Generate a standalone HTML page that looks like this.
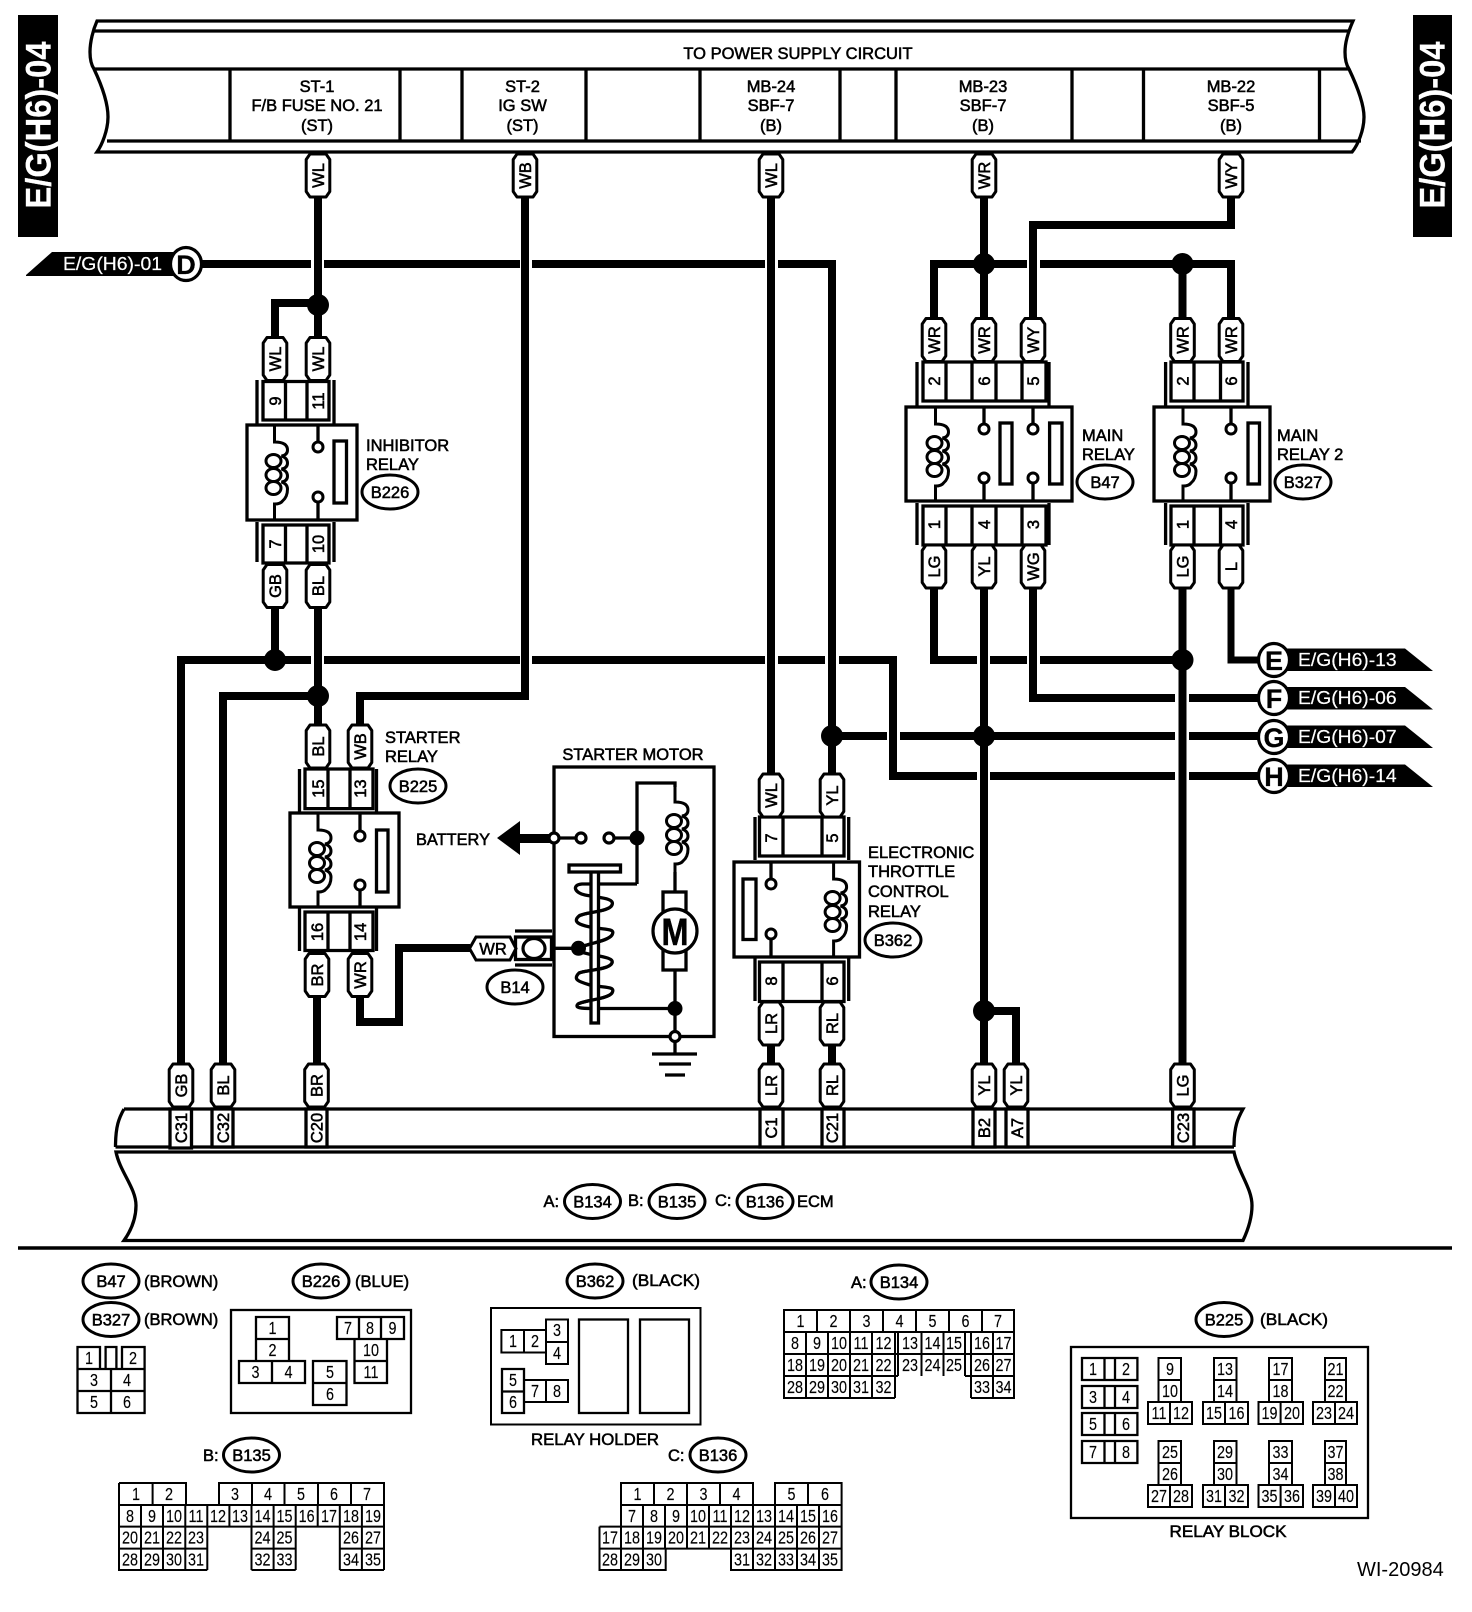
<!DOCTYPE html>
<html><head><meta charset="utf-8"><title>E/G(H6)-04</title>
<style>
html,body{margin:0;padding:0;background:#fff}
svg{display:block}
text{font-family:"Liberation Sans",sans-serif;font-size:16.5px;fill:#000;stroke:#000;stroke-width:.55}
.c{text-anchor:middle}
.k{fill:#fff;stroke:#fff;font-size:18px;stroke-width:.2}
.bar{font-size:35px;font-weight:bold;text-anchor:middle;fill:#fff;stroke:#fff;stroke-width:.3}
.n{font-size:18px;text-anchor:middle;stroke-width:.15;transform-box:fill-box;transform-origin:center;transform:scaleX(.8)}
.big{font-size:27px;font-weight:bold;text-anchor:middle;stroke-width:.3}
.w{fill:none;stroke:#000;stroke-width:8;stroke-linejoin:miter}
.l{fill:none;stroke:#000;stroke-width:3.3}
.m{fill:none;stroke:#000;stroke-width:2.3}
.g{fill:none;stroke:#000;stroke-width:2}
.b{fill:#fff;stroke:#000;stroke-width:3.3}
.o{fill:#fff;stroke:#000;stroke-width:3.2}
</style></head><body>
<svg width="1472" height="1612" viewBox="0 0 1472 1612" xmlns="http://www.w3.org/2000/svg">
<defs>
<path id="p" d="M-8-21.5H8L11.8-16V16L8 21.5H-8L-11.8 16V-16Z" fill="#fff" stroke="#000" stroke-width="3" stroke-linejoin="round"/>
<ellipse id="v" rx="28" ry="17" fill="#fff" stroke="#000" stroke-width="3"/>
<circle id="e" r="5" fill="#fff" stroke="#000" stroke-width="3"/>
<circle id="j" r="11" fill="#000"/>
<g id="q" fill="none" stroke="#000" stroke-width="3">
<path d="M0 0V17Q13 17 13 25Q13 30 7 31Q13 33 13 38Q13 43 7 44Q13 46 13 51Q13 56 7 57Q13 59 13 64Q13 72 8 76Q6 79 0 79V95"/>
<ellipse cx="-1" cy="36" rx="7.5" ry="6.5"/><ellipse cx="-1" cy="50" rx="7.5" ry="6.5"/><ellipse cx="-1" cy="63" rx="7.5" ry="6.5"/>
</g>
</defs>

<!-- side bars -->
<rect x="18" y="15" width="40" height="222"/>
<text class="bar" transform="translate(38 125)rotate(-90)" y="12.5" textLength="167" lengthAdjust="spacingAndGlyphs">E/G(H6)-04</text>
<rect x="1413" y="15" width="39" height="222"/>
<text class="bar" transform="translate(1432 125)rotate(-90)" y="12.5" textLength="167" lengthAdjust="spacingAndGlyphs">E/G(H6)-04</text>

<!-- header -->
<path class="l" d="M97 21C93 30 90 42 90 52C90 60 92 66 94 69C103 88 108 105 108 117C108 130 102 145 97 152H1352C1358 145 1364 130 1364 117C1364 105 1358 88 1349 69C1347 66 1345 60 1345 52C1345 42 1349 30 1353 21Z"/>
<path class="l" d="M93 31H1349M93 69H1349M107 141H1361M230 69V141M400 69V141M462 69V141M586 69V141M700 69V141M840 69V141M896 69V141M1072 69V141M1143.5 69V141M1319.5 69V141"/>
<text class="c" x="798" y="59">TO POWER SUPPLY CIRCUIT</text>
<text class="c" x="317" y="92">ST-1</text><text class="c" x="317" y="111">F/B FUSE NO. 21</text><text class="c" x="317" y="131">(ST)</text>
<text class="c" x="522.5" y="92">ST-2</text><text class="c" x="522.5" y="111">IG SW</text><text class="c" x="522.5" y="131">(ST)</text>
<text class="c" x="771" y="92">MB-24</text><text class="c" x="771" y="111">SBF-7</text><text class="c" x="771" y="131">(B)</text>
<text class="c" x="983" y="92">MB-23</text><text class="c" x="983" y="111">SBF-7</text><text class="c" x="983" y="131">(B)</text>
<text class="c" x="1231" y="92">MB-22</text><text class="c" x="1231" y="111">SBF-5</text><text class="c" x="1231" y="131">(B)</text>

<!-- wires -->
<path class="w" d="M202 264H311M324 264H520M532 264H765M778 264H832V774"/>
<path class="w" d="M318 197V338M318 303H275V338"/>
<path class="w" d="M525 197V696H360V725"/>
<path class="w" d="M771 197V774"/>
<path class="w" d="M984 197V319"/>
<path class="w" d="M934 319V264H1027M1040 264H1231V319"/>
<path class="w" d="M1182.5 264V319"/>
<path class="w" d="M1231 197V225H1033V319"/>
<path class="w" d="M275 608V660M318 608V725"/>
<path class="w" d="M181 1064V660H311M324 660H520M532 660H765M778 660H825M839 660H893V776H977M990 776H1175M1189 776H1258"/>
<path class="w" d="M223 1064V696H318"/>
<path class="w" d="M317 996V1064"/>
<path class="w" d="M360 996V1022H399V948H470"/>
<path class="w" d="M771 1045V1064M832 1045V1064"/>
<path class="w" d="M934 588V660H977M990 660H1027M1040 660H1182"/>
<path class="w" d="M984 588V1064"/>
<path class="w" d="M1033 588V698H1175M1189 698H1258"/>
<path class="w" d="M1182.5 588V1064"/>
<path class="w" style="stroke-width:7" d="M1231 588V660H1258"/>
<path class="w" d="M832 736H887M900 736H1175M1189 736H1258"/>
<path class="w" d="M984 1011H1016V1064"/>

<!-- junctions -->
<use href="#j" x="318" y="305"/><use href="#j" x="984" y="264"/><use href="#j" x="1182.5" y="264"/>
<use href="#j" x="275" y="660"/><use href="#j" x="318" y="696"/><use href="#j" x="1182.5" y="660"/>
<use href="#j" x="832" y="736"/><use href="#j" x="984" y="736"/><use href="#j" x="984" y="1011"/>

<!-- D tag -->
<path d="M26 275L52 252H175V276H26Z"/>
<text class="k" x="63" y="270" textLength="99" lengthAdjust="spacingAndGlyphs">E/G(H6)-01</text>
<ellipse class="o" cx="186" cy="264" rx="15.5" ry="16.5"/><text class="big" x="186" y="274">D</text>

<!-- E F G H tags -->
<path d="M1285 648.5H1405L1433 671H1285Z"/><path d="M1285 687H1405L1433 709.5H1285Z"/><path d="M1285 725.5H1405L1433 748H1285Z"/><path d="M1285 764.5H1405L1433 787H1285Z"/>
<text class="k" x="1298" y="666" textLength="98.6" lengthAdjust="spacingAndGlyphs">E/G(H6)-13</text>
<text class="k" x="1298" y="704" textLength="98.6" lengthAdjust="spacingAndGlyphs">E/G(H6)-06</text>
<text class="k" x="1298" y="743" textLength="98.6" lengthAdjust="spacingAndGlyphs">E/G(H6)-07</text>
<text class="k" x="1298" y="782" textLength="98.6" lengthAdjust="spacingAndGlyphs">E/G(H6)-14</text>
<ellipse class="o" cx="1274" cy="660" rx="15.5" ry="16.5"/><text class="big" x="1274" y="670">E</text>
<ellipse class="o" cx="1274" cy="698" rx="15.5" ry="16.5"/><text class="big" x="1274" y="708">F</text>
<ellipse class="o" cx="1274" cy="737" rx="15.5" ry="16.5"/><text class="big" x="1274" y="747">G</text>
<ellipse class="o" cx="1274" cy="776" rx="15.5" ry="16.5"/><text class="big" x="1274" y="786">H</text>

<!-- Inhibitor relay -->
<path class="l" d="M257 380V424M334 380V424M257 522V562M334 522V562"/>
<path class="b" d="M263 381.5H329V420H263ZM285.5 381.5V420M307 381.5V420M263 525H329V563H263ZM285.5 525V563M307 525V563"/>
<rect class="b" x="247" y="425" width="110" height="95"/>
<use href="#q" x="274.5" y="425"/>
<path class="l" d="M318 425V442M318 502V520"/><use href="#e" x="318" y="447"/><use href="#e" x="318" y="497"/>
<rect class="b" x="334" y="441" width="12.5" height="62"/>
<text class="c" transform="translate(275 401)rotate(-90)" y="6">9</text><text class="c" transform="translate(318 401)rotate(-90)" y="6">11</text>
<text class="c" transform="translate(275 544)rotate(-90)" y="6">7</text><text class="c" transform="translate(318 544)rotate(-90)" y="6">10</text>
<text x="366" y="451">INHIBITOR</text><text x="366" y="470">RELAY</text>
<use href="#v" x="390" y="492"/><text class="c" x="390" y="498">B226</text>

<!-- Main relay -->
<path class="l" d="M917 362V406M1049 362V406M917 503V545M1049 503V545"/>
<path class="b" d="M923 362H1046V401H923ZM946 362V401M972 362V401M996 362V401M1022 362V401M923 506H1046V545H923ZM946 506V545M972 506V545M996 506V545M1022 506V545"/>
<rect class="b" x="906" y="407" width="166" height="94"/>
<use href="#q" x="935.5" y="407"/>
<path class="l" d="M984 407V424M984 483V501M1033 407V424M1033 483V501"/>
<use href="#e" x="984" y="429"/><use href="#e" x="984" y="478"/><use href="#e" x="1033" y="429"/><use href="#e" x="1033" y="478"/>
<rect class="b" x="1000" y="423" width="12" height="61"/><rect class="b" x="1049.6" y="423" width="12.4" height="61"/>
<text class="c" transform="translate(934 381)rotate(-90)" y="6">2</text><text class="c" transform="translate(984 381)rotate(-90)" y="6">6</text><text class="c" transform="translate(1033 381)rotate(-90)" y="6">5</text>
<text class="c" transform="translate(934 524.5)rotate(-90)" y="6">1</text><text class="c" transform="translate(984 524.5)rotate(-90)" y="6">4</text><text class="c" transform="translate(1033 524.5)rotate(-90)" y="6">3</text>
<text x="1082" y="441">MAIN</text><text x="1082" y="460">RELAY</text>
<use href="#v" x="1105" y="482"/><text class="c" x="1105" y="488">B47</text>

<!-- Main relay 2 -->
<path class="l" d="M1165.6 362V406M1248 362V406M1165.6 503V545M1248 503V545"/>
<path class="b" d="M1171 362H1243V401H1171ZM1194 362V401M1220.5 362V401M1171 506H1243V545H1171ZM1194 506V545M1220.5 506V545"/>
<rect class="b" x="1154" y="407" width="116" height="94"/>
<use href="#q" x="1183" y="407"/>
<path class="l" d="M1231 407V424M1231 483V501"/><use href="#e" x="1231" y="429"/><use href="#e" x="1231" y="478"/>
<rect class="b" x="1248" y="423" width="11.5" height="61"/>
<text class="c" transform="translate(1182.5 381)rotate(-90)" y="6">2</text><text class="c" transform="translate(1231 381)rotate(-90)" y="6">6</text>
<text class="c" transform="translate(1182.5 524.5)rotate(-90)" y="6">1</text><text class="c" transform="translate(1231 524.5)rotate(-90)" y="6">4</text>
<text x="1277" y="441">MAIN</text><text x="1277" y="460">RELAY 2</text>
<use href="#v" x="1303" y="482"/><text class="c" x="1303" y="488">B327</text>

<!-- Starter relay -->
<path class="l" d="M299.5 769V812M376.5 769V812M299.5 908V951M376.5 908V951"/>
<path class="b" d="M305 769H373V808.6H305ZM328 769V808.6M350 769V808.6M305 912H373V950.5H305ZM328 912V950.5M350 912V950.5"/>
<rect class="b" x="290" y="813" width="109" height="94"/>
<use href="#q" x="318" y="813"/>
<path class="l" d="M360 813V830M360 890V907"/><use href="#e" x="360" y="836"/><use href="#e" x="360" y="885"/>
<rect class="b" x="376.5" y="830" width="11.5" height="62"/>
<text class="c" transform="translate(318 788.6)rotate(-90)" y="6">15</text><text class="c" transform="translate(360 788.6)rotate(-90)" y="6">13</text>
<text class="c" transform="translate(317 932)rotate(-90)" y="6">16</text><text class="c" transform="translate(360 932)rotate(-90)" y="6">14</text>
<text x="385" y="743">STARTER</text><text x="385" y="762">RELAY</text>
<use href="#v" x="418" y="786"/><text class="c" x="418" y="792">B225</text>

<!-- ETC relay -->
<path class="l" d="M755 817V860M848.7 817V860M755 958V1001M848.7 958V1001"/>
<path class="b" d="M759.5 817H844V856H759.5ZM783 817V856M822 817V856M759.5 962H844V1001.5H759.5ZM783 962V1001.5M822 962V1001.5"/>
<rect class="b" x="734" y="862" width="125.5" height="95"/>
<use href="#q" x="833.6" y="862"/>
<path class="l" d="M771 862V878M771 939V957"/><use href="#e" x="771" y="884"/><use href="#e" x="771" y="934"/>
<rect class="b" x="743" y="879" width="13" height="60.5"/>
<text class="c" transform="translate(771 838)rotate(-90)" y="6">7</text><text class="c" transform="translate(832 838)rotate(-90)" y="6">5</text>
<text class="c" transform="translate(771 981)rotate(-90)" y="6">8</text><text class="c" transform="translate(832 981)rotate(-90)" y="6">6</text>
<text x="868" y="858">ELECTRONIC</text><text x="868" y="877">THROTTLE</text><text x="868" y="897">CONTROL</text><text x="868" y="917">RELAY</text>
<use href="#v" x="893" y="940"/><text class="c" x="893" y="946">B362</text>

<!-- Starter motor -->
<rect class="l" x="554" y="767" width="160" height="269.5"/>
<text class="c" x="633" y="760">STARTER MOTOR</text>
<text x="416" y="845" textLength="74" lengthAdjust="spacingAndGlyphs">BATTERY</text>
<path d="M497 838L520 821V834H554V843H520V855Z"/>
<path class="l" d="M554 838H581M609 838H637M637 884V783H675V787"/>
<use href="#q" x="675" y="785"/>
<path class="l" d="M675 872V892M675 970V1036M675 1042V1053M590 1008.5H675M552 948.3H579"/>
<path class="l" d="M637 884H582C571 885 575 893 585 895C600 898 615 898 612 905C609 912 585 912 579 916C572 922 580 925 590 927C605 930 616 928 612 935C608 941 590 943 578 948"/>
<path class="l" d="M582 952C590 956 615 956 612 963C609 970 585 970 579 973C572 980 580 982 590 985C605 988 616 986 612 993C608 999 585 1000 578 1004C574 1008 582 1008.5 592 1008.5"/>
<rect class="b" x="591" y="870" width="7.5" height="153"/>
<rect class="b" x="569" y="865" width="51.5" height="7"/>
<path class="l" d="M612 905C609 912 585 912 579 916M612 935C608 941 590 943 578 948M612 963C609 970 585 970 579 973M612 993C608 999 585 1000 578 1004"/>
<circle class="o" cx="554" cy="838" r="5"/><circle class="o" cx="581" cy="838" r="5"/><circle class="o" cx="609" cy="838" r="5"/>
<circle cx="637" cy="838" r="7.5"/><circle cx="578.5" cy="948.3" r="7.5"/><circle cx="675" cy="1008.5" r="7.5"/>
<circle class="o" cx="675" cy="1036.5" r="5"/>
<rect class="b" x="663" y="892" width="23" height="78"/>
<circle class="o" cx="675" cy="931" r="22"/>
<text class="c" x="675" y="945" style="font-size:38px;font-weight:bold" textLength="27" lengthAdjust="spacingAndGlyphs">M</text>
<path class="l" d="M652 1054H697M659 1064H691M665 1075H685"/>
<path class="l" d="M515 931H552M515 965H552"/>
<rect class="b" x="515.5" y="937" width="36" height="22.5"/>
<ellipse class="o" cx="534" cy="948.5" rx="11" ry="10"/>
<path d="M469.5 948.5L476 937H510L516 948.5L510 960H476Z" fill="#fff" stroke="#000" stroke-width="3"/>
<text class="c" x="493" y="954.5">WR</text>
<use href="#v" x="515" y="987"/><text class="c" x="515" y="993">B14</text>

<!-- pills -->
<use href="#p" x="318" y="175.5"/><text class="c" transform="translate(318 175.5)rotate(-90)" y="6">WL</text>
<use href="#p" x="525" y="175.5"/><text class="c" transform="translate(525 175.5)rotate(-90)" y="6">WB</text>
<use href="#p" x="771" y="175.5"/><text class="c" transform="translate(771 175.5)rotate(-90)" y="6">WL</text>
<use href="#p" x="984" y="175.5"/><text class="c" transform="translate(984 175.5)rotate(-90)" y="6">WR</text>
<use href="#p" x="1231" y="175.5"/><text class="c" transform="translate(1231 175.5)rotate(-90)" y="6">WY</text>
<use href="#p" x="275" y="359"/><text class="c" transform="translate(275 359)rotate(-90)" y="6">WL</text>
<use href="#p" x="318" y="359"/><text class="c" transform="translate(318 359)rotate(-90)" y="6">WL</text>
<use href="#p" x="275" y="586"/><text class="c" transform="translate(275 586)rotate(-90)" y="6">GB</text>
<use href="#p" x="318" y="586"/><text class="c" transform="translate(318 586)rotate(-90)" y="6">BL</text>
<use href="#p" x="934" y="340"/><text class="c" transform="translate(934 340)rotate(-90)" y="6">WR</text>
<use href="#p" x="984" y="340"/><text class="c" transform="translate(984 340)rotate(-90)" y="6">WR</text>
<use href="#p" x="1033" y="340"/><text class="c" transform="translate(1033 340)rotate(-90)" y="6">WY</text>
<use href="#p" x="1182.5" y="340"/><text class="c" transform="translate(1182.5 340)rotate(-90)" y="6">WR</text>
<use href="#p" x="1231" y="340"/><text class="c" transform="translate(1231 340)rotate(-90)" y="6">WR</text>
<use href="#p" x="934" y="566.5"/><text class="c" transform="translate(934 566.5)rotate(-90)" y="6">LG</text>
<use href="#p" x="984" y="566.5"/><text class="c" transform="translate(984 566.5)rotate(-90)" y="6">YL</text>
<use href="#p" x="1033" y="566.5"/><text class="c" transform="translate(1033 566.5)rotate(-90)" y="6">WG</text>
<use href="#p" x="1182.5" y="566.5"/><text class="c" transform="translate(1182.5 566.5)rotate(-90)" y="6">LG</text>
<use href="#p" x="1231" y="566.5"/><text class="c" transform="translate(1231 566.5)rotate(-90)" y="6">L</text>
<use href="#p" x="318" y="746.5"/><text class="c" transform="translate(318 746.5)rotate(-90)" y="6">BL</text>
<use href="#p" x="360" y="746.5"/><text class="c" transform="translate(360 746.5)rotate(-90)" y="6">WB</text>
<use href="#p" x="317" y="975"/><text class="c" transform="translate(317 975)rotate(-90)" y="6">BR</text>
<use href="#p" x="360" y="975"/><text class="c" transform="translate(360 975)rotate(-90)" y="6">WR</text>
<use href="#p" x="771" y="795.5"/><text class="c" transform="translate(771 795.5)rotate(-90)" y="6">WL</text>
<use href="#p" x="832" y="795.5"/><text class="c" transform="translate(832 795.5)rotate(-90)" y="6">YL</text>
<use href="#p" x="771" y="1023.5"/><text class="c" transform="translate(771 1023.5)rotate(-90)" y="6">LR</text>
<use href="#p" x="832" y="1023.5"/><text class="c" transform="translate(832 1023.5)rotate(-90)" y="6">RL</text>
<use href="#p" x="181" y="1085.5"/><text class="c" transform="translate(181 1085.5)rotate(-90)" y="6">GB</text>
<use href="#p" x="223" y="1085.5"/><text class="c" transform="translate(223 1085.5)rotate(-90)" y="6">BL</text>
<use href="#p" x="316.5" y="1085.5"/><text class="c" transform="translate(316.5 1085.5)rotate(-90)" y="6">BR</text>
<use href="#p" x="771" y="1085.5"/><text class="c" transform="translate(771 1085.5)rotate(-90)" y="6">LR</text>
<use href="#p" x="832" y="1085.5"/><text class="c" transform="translate(832 1085.5)rotate(-90)" y="6">RL</text>
<use href="#p" x="984" y="1085.5"/><text class="c" transform="translate(984 1085.5)rotate(-90)" y="6">YL</text>
<use href="#p" x="1016" y="1085.5"/><text class="c" transform="translate(1016 1085.5)rotate(-90)" y="6">YL</text>
<use href="#p" x="1182.5" y="1085.5"/><text class="c" transform="translate(1182.5 1085.5)rotate(-90)" y="6">LG</text>

<!-- ECM -->
<path class="l" d="M124 1109H1243C1238 1118 1234 1126 1234 1147M124 1109C119 1118 115.5 1126 115.5 1147M115.5 1147H1234"/>
<path class="l" d="M116 1152H1234C1238 1172 1252 1188 1252 1205.5C1252 1220 1247 1232 1243 1240.5H124C130 1232 136 1220 136 1205.5C136 1188 120 1172 116 1152Z"/>
<path class="b" d="M170 1109H191.5V1148H170ZM212 1109H233V1147H212ZM306 1109H327V1147H306ZM760 1109H783V1147H760ZM822 1109H844V1147H822ZM973 1109H995V1147H973ZM1006 1109H1028V1147H1006ZM1172.6 1109H1194V1147H1172.6Z"/>
<text class="c" transform="translate(181 1128)rotate(-90)" y="6">C31</text>
<text class="c" transform="translate(223 1128)rotate(-90)" y="6">C32</text>
<text class="c" transform="translate(316.5 1128)rotate(-90)" y="6">C20</text>
<text class="c" transform="translate(771 1128)rotate(-90)" y="6">C1</text>
<text class="c" transform="translate(832 1128)rotate(-90)" y="6">C21</text>
<text class="c" transform="translate(984 1128)rotate(-90)" y="6">B2</text>
<text class="c" transform="translate(1017 1128)rotate(-90)" y="6">A7</text>
<text class="c" transform="translate(1183 1128)rotate(-90)" y="6">C23</text>
<text x="543.5" y="1207">A:</text><use href="#v" x="592.5" y="1201.5"/><text class="c" x="592.5" y="1207.5">B134</text>
<text x="628" y="1206">B:</text><use href="#v" x="677" y="1201.5"/><text class="c" x="677" y="1207.5">B135</text>
<text x="715" y="1206">C:</text><use href="#v" x="765" y="1201.5"/><text class="c" x="765" y="1207.5">B136</text>
<text x="797" y="1207">ECM</text>

<path class="l" style="stroke-width:3.5" d="M18 1248H1452"/>

<!-- legend B47 / B327 -->
<use href="#v" x="111" y="1281"/><text class="c" x="111" y="1287">B47</text><text x="144" y="1287">(BROWN)</text>
<use href="#v" x="111" y="1319.5"/><text class="c" x="111" y="1325.5">B327</text><text x="144" y="1325">(BROWN)</text>
<path class="m" d="M77.5 1347H100V1369H77.5ZM105.6 1347H116.4V1369H105.6ZM122 1347H144.6V1369H122ZM77.5 1369H144.6V1413H77.5ZM77.5 1391H144.6M111 1369V1413"/>
<text class="n" x="89" y="1364">1</text><text class="n" x="133" y="1364">2</text><text class="n" x="94" y="1386">3</text><text class="n" x="127" y="1386">4</text><text class="n" x="94" y="1408">5</text><text class="n" x="127" y="1408">6</text>

<!-- B226 -->
<use href="#v" x="321" y="1281"/><text class="c" x="321" y="1287">B226</text><text x="355" y="1287">(BLUE)</text>
<rect class="m" x="231" y="1310" width="180" height="103"/>
<path class="m" d="M256 1317H289V1361H256ZM256 1339H289M239 1361H305V1383H239ZM272 1361V1383M313 1361H346.5V1405H313ZM313 1383H346.5M337 1317H404V1339H337ZM359 1317V1339M381 1317V1339M354.5 1339H387V1383H354.5ZM354.5 1361H387"/>
<text class="n" x="272.5" y="1334">1</text><text class="n" x="272.5" y="1356">2</text><text class="n" x="255.5" y="1378">3</text><text class="n" x="288.5" y="1378">4</text><text class="n" x="330" y="1378">5</text><text class="n" x="330" y="1400">6</text><text class="n" x="348" y="1334">7</text><text class="n" x="370" y="1334">8</text><text class="n" x="392.5" y="1334">9</text><text class="n" x="371" y="1356">10</text><text class="n" x="371" y="1378">11</text>

<!-- B362 -->
<use href="#v" x="595" y="1281"/><text class="c" x="595" y="1287">B362</text><text x="632" y="1286" textLength="68" lengthAdjust="spacingAndGlyphs">(BLACK)</text>
<rect class="g" x="491" y="1308" width="209.5" height="116.5"/>
<path class="g" d="M501.4 1330H546V1352.5H501.4ZM524 1330V1352.5M546 1319.5H568V1364H546ZM546 1342H568M524 1380H568V1402H524ZM546 1380V1402"/>
<path class="m" d="M502 1369H524V1413H502ZM502 1391.5H524"/>
<rect class="m" x="579" y="1319.5" width="49" height="93.5"/><rect class="m" x="640" y="1319.5" width="49" height="93.5"/>
<text class="n" x="513" y="1347">1</text><text class="n" x="535" y="1347">2</text><text class="n" x="557" y="1336">3</text><text class="n" x="557" y="1359">4</text><text class="n" x="513" y="1386">5</text><text class="n" x="513" y="1408">6</text><text class="n" x="535" y="1397">7</text><text class="n" x="557" y="1397">8</text>
<text class="c" x="595" y="1445" textLength="128" lengthAdjust="spacingAndGlyphs">RELAY HOLDER</text>

<!-- B134 -->
<text x="851" y="1288">A:</text><use href="#v" x="899" y="1282"/><text class="c" x="899" y="1288">B134</text>
<path class="g" d="M784 1310H1014V1354H784ZM784 1332H1014M817 1310V1332M850 1310V1332M883 1310V1332M916 1310V1332M949 1310V1332M982 1310V1332M806 1332V1398M828 1332V1398M850 1332V1398M872 1332V1398M895 1332V1398M898 1332V1376M921.5 1332V1376M943.5 1332V1376M965 1332V1376M971 1332V1398M993 1332V1398M784 1354V1398H895M784 1376H898M965 1376H1014M1014 1354V1398H971"/>
<text class="n" x="800.5" y="1327">1</text><text class="n" x="833.5" y="1327">2</text><text class="n" x="866.5" y="1327">3</text><text class="n" x="899.5" y="1327">4</text><text class="n" x="932.5" y="1327">5</text><text class="n" x="965.5" y="1327">6</text><text class="n" x="998" y="1327">7</text>
<text class="n" x="795" y="1349">8</text><text class="n" x="817" y="1349">9</text><text class="n" x="839" y="1349">10</text><text class="n" x="861" y="1349">11</text><text class="n" x="883.5" y="1349">12</text><text class="n" x="910" y="1349">13</text><text class="n" x="932.5" y="1349">14</text><text class="n" x="954" y="1349">15</text><text class="n" x="982" y="1349">16</text><text class="n" x="1003.5" y="1349">17</text>
<text class="n" x="795" y="1371">18</text><text class="n" x="817" y="1371">19</text><text class="n" x="839" y="1371">20</text><text class="n" x="861" y="1371">21</text><text class="n" x="883.5" y="1371">22</text><text class="n" x="910" y="1371">23</text><text class="n" x="932.5" y="1371">24</text><text class="n" x="954" y="1371">25</text><text class="n" x="982" y="1371">26</text><text class="n" x="1003.5" y="1371">27</text>
<text class="n" x="795" y="1393">28</text><text class="n" x="817" y="1393">29</text><text class="n" x="839" y="1393">30</text><text class="n" x="861" y="1393">31</text><text class="n" x="883.5" y="1393">32</text><text class="n" x="982" y="1393">33</text><text class="n" x="1003.5" y="1393">34</text>

<!-- B135 -->
<text x="203" y="1461">B:</text><use href="#v" x="251.5" y="1455"/><text class="c" x="251.5" y="1461">B135</text>
<path class="g" d="M119 1483H186V1505M152.6 1483V1505M219 1505V1483H384V1526.6H119V1483M252 1483V1505M284.5 1483V1505M318 1483V1505M351 1483V1505M119 1505H384M141 1505V1570M163 1505V1570M185.3 1505V1570M207.3 1505V1570M229.4 1505V1526.6M251.5 1505V1570M273.6 1505V1570M295.7 1505V1570M317.7 1505V1526.6M339.8 1505V1570M361.9 1505V1570M384 1505V1570M119 1526.6V1570H207.3M119 1548.6H207.3M251.5 1548.6H295.7M251.5 1570H295.7M339.8 1548.6H384M339.8 1570H384"/>
<text class="n" x="136" y="1500">1</text><text class="n" x="169" y="1500">2</text><text class="n" x="235" y="1500">3</text><text class="n" x="268" y="1500">4</text><text class="n" x="301" y="1500">5</text><text class="n" x="334" y="1500">6</text><text class="n" x="367" y="1500">7</text>
<text class="n" x="130" y="1522">8</text><text class="n" x="152" y="1522">9</text><text class="n" x="174" y="1522">10</text><text class="n" x="196" y="1522">11</text><text class="n" x="218" y="1522">12</text><text class="n" x="240" y="1522">13</text><text class="n" x="262.5" y="1522">14</text><text class="n" x="284.5" y="1522">15</text><text class="n" x="306.7" y="1522">16</text><text class="n" x="329" y="1522">17</text><text class="n" x="351" y="1522">18</text><text class="n" x="373" y="1522">19</text>
<text class="n" x="130" y="1543.5">20</text><text class="n" x="152" y="1543.5">21</text><text class="n" x="174" y="1543.5">22</text><text class="n" x="196" y="1543.5">23</text><text class="n" x="262.5" y="1543.5">24</text><text class="n" x="284.5" y="1543.5">25</text><text class="n" x="351" y="1543.5">26</text><text class="n" x="373" y="1543.5">27</text>
<text class="n" x="130" y="1565.5">28</text><text class="n" x="152" y="1565.5">29</text><text class="n" x="174" y="1565.5">30</text><text class="n" x="196" y="1565.5">31</text><text class="n" x="262.5" y="1565.5">32</text><text class="n" x="284.5" y="1565.5">33</text><text class="n" x="351" y="1565.5">34</text><text class="n" x="373" y="1565.5">35</text>

<!-- B136 -->
<text x="668" y="1461">C:</text><use href="#v" x="718" y="1455"/><text class="c" x="718" y="1461">B136</text>
<path class="g" d="M621 1483H753V1505H621ZM654 1483V1505M687 1483V1505M720 1483V1505M775 1505V1483H841.6V1505M808 1483V1505M621 1505H841.6V1570H731V1548.6M621 1505V1526.6M599.5 1526.6H841.6M599.5 1526.6V1570H665.7V1548.6M599.5 1548.6H841.6M621 1526.6V1570M643 1505V1570M665 1505V1548.6M687 1505V1548.6M709 1505V1548.6M731 1505V1570M753 1505V1570M775 1505V1570M797 1505V1570M819 1505V1570"/>
<text class="n" x="637.5" y="1500">1</text><text class="n" x="670.5" y="1500">2</text><text class="n" x="703.5" y="1500">3</text><text class="n" x="736.5" y="1500">4</text><text class="n" x="791.5" y="1500">5</text><text class="n" x="825" y="1500">6</text>
<text class="n" x="632" y="1522">7</text><text class="n" x="654" y="1522">8</text><text class="n" x="676" y="1522">9</text><text class="n" x="698" y="1522">10</text><text class="n" x="720" y="1522">11</text><text class="n" x="742" y="1522">12</text><text class="n" x="764" y="1522">13</text><text class="n" x="786" y="1522">14</text><text class="n" x="808" y="1522">15</text><text class="n" x="830" y="1522">16</text>
<text class="n" x="610" y="1543.5">17</text><text class="n" x="632" y="1543.5">18</text><text class="n" x="654" y="1543.5">19</text><text class="n" x="676" y="1543.5">20</text><text class="n" x="698" y="1543.5">21</text><text class="n" x="720" y="1543.5">22</text><text class="n" x="742" y="1543.5">23</text><text class="n" x="764" y="1543.5">24</text><text class="n" x="786" y="1543.5">25</text><text class="n" x="808" y="1543.5">26</text><text class="n" x="830" y="1543.5">27</text>
<text class="n" x="610" y="1565.5">28</text><text class="n" x="632" y="1565.5">29</text><text class="n" x="654" y="1565.5">30</text><text class="n" x="742" y="1565.5">31</text><text class="n" x="764" y="1565.5">32</text><text class="n" x="786" y="1565.5">33</text><text class="n" x="808" y="1565.5">34</text><text class="n" x="830" y="1565.5">35</text>

<!-- B225 -->
<use href="#v" x="1224" y="1319.5"/><text class="c" x="1224" y="1325.5">B225</text><text x="1260" y="1325" textLength="68" lengthAdjust="spacingAndGlyphs">(BLACK)</text>
<rect class="m" x="1071" y="1347" width="297" height="171"/>
<path class="m" d="M1082 1358H1137.4V1380H1082ZM1104.5 1358V1380M1115 1358V1380M1082 1386H1137.4V1408H1082ZM1104.5 1386V1408M1115 1386V1408M1082 1413H1137.4V1435H1082ZM1104.5 1413V1435M1115 1413V1435M1082 1441H1137.4V1463H1082ZM1104.5 1441V1463M1115 1441V1463"/>
<path class="g" d="M1158.5 1358H1181V1402H1158.5ZM1158.5 1380H1181M1148 1402H1192V1424H1148ZM1170 1402V1424M1214 1358H1236.5V1402H1214ZM1214 1380H1236.5M1203 1402H1248V1424H1203ZM1225 1402V1424M1269 1358H1292V1402H1269ZM1269 1380H1292M1258.5 1402H1303V1424H1258.5ZM1280.6 1402V1424M1325 1358H1346V1402H1325ZM1325 1380H1346M1313 1402H1357V1424H1313ZM1335 1402V1424"/>
<path class="g" d="M1158.5 1441H1181V1485H1158.5ZM1158.5 1463H1181M1148 1485H1192V1507H1148ZM1170 1485V1507M1214 1441H1236.5V1485H1214ZM1214 1463H1236.5M1203 1485H1248V1507H1203ZM1225 1485V1507M1269 1441H1292V1485H1269ZM1269 1463H1292M1258.5 1485H1303V1507H1258.5ZM1280.6 1485V1507M1325 1441H1346V1485H1325ZM1325 1463H1346M1313 1485H1357V1507H1313ZM1335 1485V1507"/>
<text class="n" x="1093" y="1375">1</text><text class="n" x="1126" y="1375">2</text><text class="n" x="1093" y="1403">3</text><text class="n" x="1126" y="1403">4</text><text class="n" x="1093" y="1430">5</text><text class="n" x="1126" y="1430">6</text><text class="n" x="1093" y="1458">7</text><text class="n" x="1126" y="1458">8</text>
<text class="n" x="1170" y="1375">9</text><text class="n" x="1170" y="1397">10</text><text class="n" x="1159" y="1419">11</text><text class="n" x="1181" y="1419">12</text>
<text class="n" x="1225" y="1375">13</text><text class="n" x="1225" y="1397">14</text><text class="n" x="1214" y="1419">15</text><text class="n" x="1236.5" y="1419">16</text>
<text class="n" x="1280.5" y="1375">17</text><text class="n" x="1280.5" y="1397">18</text><text class="n" x="1269.5" y="1419">19</text><text class="n" x="1292" y="1419">20</text>
<text class="n" x="1335.5" y="1375">21</text><text class="n" x="1335.5" y="1397">22</text><text class="n" x="1324" y="1419">23</text><text class="n" x="1346" y="1419">24</text>
<text class="n" x="1170" y="1458">25</text><text class="n" x="1170" y="1480">26</text><text class="n" x="1159" y="1502">27</text><text class="n" x="1181" y="1502">28</text>
<text class="n" x="1225" y="1458">29</text><text class="n" x="1225" y="1480">30</text><text class="n" x="1214" y="1502">31</text><text class="n" x="1236.5" y="1502">32</text>
<text class="n" x="1280.5" y="1458">33</text><text class="n" x="1280.5" y="1480">34</text><text class="n" x="1269.5" y="1502">35</text><text class="n" x="1292" y="1502">36</text>
<text class="n" x="1335.5" y="1458">37</text><text class="n" x="1335.5" y="1480">38</text><text class="n" x="1324" y="1502">39</text><text class="n" x="1346" y="1502">40</text>
<text class="c" x="1228" y="1537" textLength="117" lengthAdjust="spacingAndGlyphs">RELAY BLOCK</text>

<text x="1357" y="1576" style="font-size:20px;stroke-width:0">WI-20984</text>
</svg>
</body></html>
